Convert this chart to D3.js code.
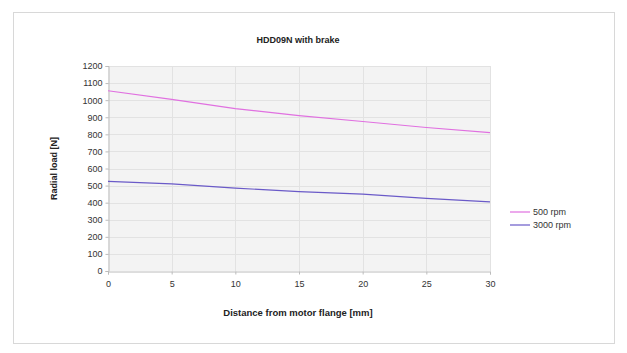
<!DOCTYPE html>
<html>
<head>
<meta charset="utf-8">
<script src="https://cdn.jsdelivr.net/npm/d3@7"></script>
<style>
  html, body { margin: 0; padding: 0; background: #ffffff; }
  svg { display: block; font-family: "Liberation Sans", Arial, sans-serif; }
</style>
</head>
<body>
<svg id="chart" width="627" height="353"></svg>
<script>
// Radial load versus distance from the motor flange
const distances = [0, 5, 10, 15, 20, 25, 30];
const load500 = [1055, 1005, 950, 910, 875, 840, 810];
const load3000 = [525, 510, 485, 465, 450, 425, 405];
const seriesNames = ["500 rpm", "3000 rpm"];
const seriesColors = ["#e070e0", "#6a5ac8"];
const yTicks = [0, 100, 200, 300, 400, 500, 600, 700, 800, 900, 1000, 1100, 1200];
const xTicks = [0, 5, 10, 15, 20, 25, 30];

const svg = d3.select("#chart");

// outer frame
svg.append("rect")
  .attr("x", 13.5).attr("y", 12.5)
  .attr("width", 601).attr("height", 331)
  .attr("fill", "#ffffff").attr("stroke", "#d8d8d8").attr("stroke-width", 1);

const plot = { left: 108, right: 490, top: 66, bottom: 271 };

const x = d3.scaleLinear().domain([0, 30]).range([plot.left, plot.right]);
const y = d3.scaleLinear().domain([0, 1200]).range([plot.bottom, plot.top]);

// plot area background
svg.append("rect")
  .attr("x", plot.left).attr("y", plot.top)
  .attr("width", plot.right - plot.left).attr("height", plot.bottom - plot.top)
  .attr("fill", "#f3f3f3");

// gridlines
svg.append("g").selectAll("line.h").data(yTicks.slice(1)).join("line")
  .attr("x1", plot.left).attr("x2", plot.right)
  .attr("y1", d => Math.round(y(d)) + 0.5).attr("y2", d => Math.round(y(d)) + 0.5)
  .attr("stroke", "#e2e2e2").attr("stroke-width", 1);
svg.append("g").selectAll("line.v").data(xTicks.slice(1)).join("line")
  .attr("y1", plot.top).attr("y2", plot.bottom)
  .attr("x1", d => Math.round(x(d)) + 0.5).attr("x2", d => Math.round(x(d)) + 0.5)
  .attr("stroke", "#e2e2e2").attr("stroke-width", 1);

// axes
const yAxis = svg.append("g")
  .attr("transform", `translate(${plot.left + 0.5},0)`)
  .call(d3.axisLeft(y).tickValues(yTicks).tickFormat(d3.format("d")).tickSize(3).tickPadding(3));
const xAxis = svg.append("g")
  .attr("transform", `translate(0,${plot.bottom + 0.5})`)
  .call(d3.axisBottom(x).tickValues(xTicks).tickFormat(d3.format("d")).tickSize(3).tickPadding(6));
[yAxis, xAxis].forEach(g => {
  g.select(".domain").attr("stroke", "#bcbcbc");
  g.selectAll(".tick line").attr("stroke", "#bcbcbc");
  g.selectAll(".tick text").attr("fill", "#333333")
    .style("font-size", "9px").style("font-family", "'Liberation Sans', Arial, sans-serif");
});

// series lines
const line = d3.line().x((d, i) => x(distances[i])).y(d => y(d));
[load500, load3000].forEach((vals, i) => {
  svg.append("path")
    .datum(vals)
    .attr("d", line)
    .attr("fill", "none")
    .attr("stroke", seriesColors[i])
    .attr("stroke-width", 1.2);
});

// title
svg.append("text")
  .attr("x", 298).attr("y", 43)
  .attr("text-anchor", "middle")
  .style("font-size", "9px").style("font-weight", "bold")
  .attr("fill", "#222222")
  .text("HDD09N with brake");

// axis titles
svg.append("text")
  .attr("x", 298).attr("y", 316)
  .attr("text-anchor", "middle")
  .style("font-size", "9.5px").style("font-weight", "bold")
  .attr("fill", "#222222")
  .text("Distance from motor flange [mm]");

svg.append("text")
  .attr("transform", `translate(57,${(plot.top + plot.bottom) / 2}) rotate(-90)`)
  .attr("text-anchor", "middle")
  .style("font-size", "9px").style("font-weight", "bold")
  .attr("fill", "#222222")
  .text("Radial load [N]");

// legend
const legend = svg.append("g").attr("transform", "translate(510,212)");
seriesNames.forEach((name, i) => {
  const g = legend.append("g").attr("transform", `translate(0,${i * 13})`);
  g.append("line").attr("x1", 0).attr("x2", 20).attr("y1", 0).attr("y2", 0)
    .attr("stroke", seriesColors[i]).attr("stroke-width", 1.2);
  g.append("text").attr("x", 23).attr("y", 3)
    .style("font-size", "9px").attr("fill", "#333333").text(name);
});
</script>
</body>
</html>
